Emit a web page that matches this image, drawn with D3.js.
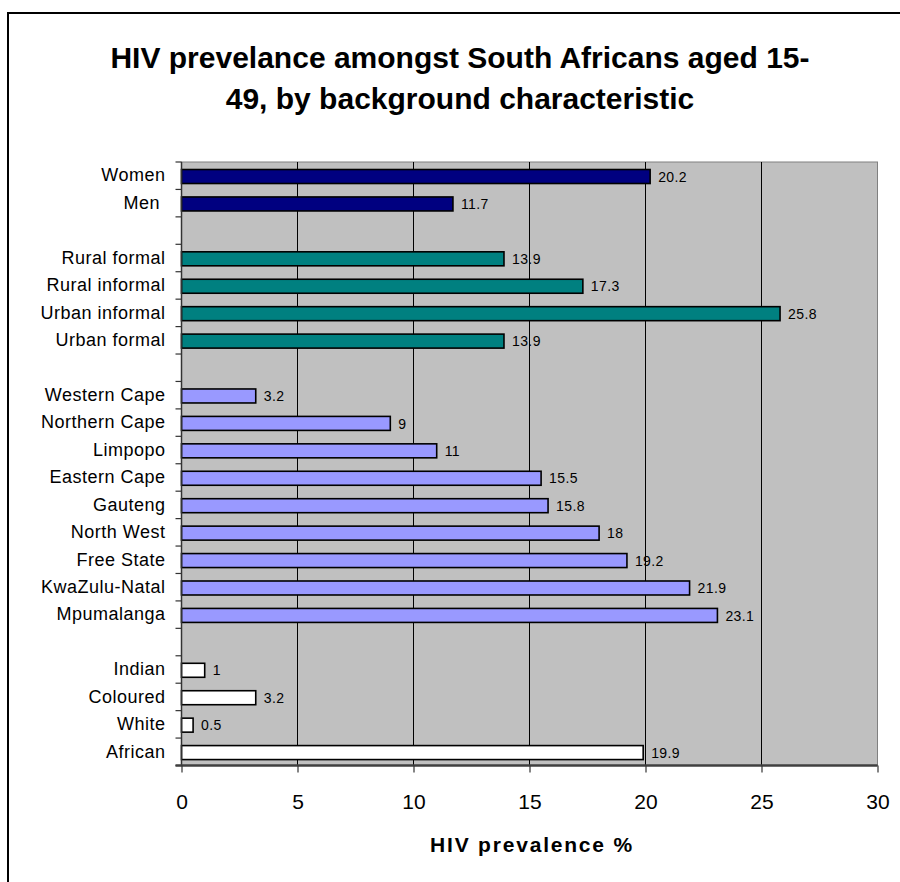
<!DOCTYPE html>
<html>
<head>
<meta charset="utf-8">
<script src="https://cdn.jsdelivr.net/npm/d3@7"></script>
<style>
  body { margin: 0; background: #fff; }
  text { font-family: "Liberation Sans", Arial, sans-serif; }
</style>
</head>
<body>
<svg id="chart" width="900" height="882"></svg>
<script>
// data, top to bottom, one list per group
var genderLabels = ["Women", "Men "];
var genderValues = [20.2, 11.7];
var settlementLabels = ["Rural formal", "Rural informal", "Urban informal", "Urban formal"];
var settlementValues = [13.9, 17.3, 25.8, 13.9];
var provinceLabels = ["Western Cape", "Northern Cape", "Limpopo", "Eastern Cape", "Gauteng",
                      "North West", "Free State", "KwaZulu-Natal", "Mpumalanga"];
var provinceValues = [3.2, 9, 11, 15.5, 15.8, 18, 19.2, 21.9, 23.1];
var raceLabels = ["Indian", "Coloured", "White", "African"];
var raceValues = [1, 3.2, 0.5, 19.9];
var xTicks = [0, 5, 10, 15, 20, 25, 30];

var groupColors = ["#000080", "#008080", "#9999FF", "#FFFFFF"];

// build rows with an empty slot between the groups
var groups = [[genderLabels, genderValues], [settlementLabels, settlementValues],
              [provinceLabels, provinceValues], [raceLabels, raceValues]];
var rows = [];
groups.forEach(function(g, gi){
	if(gi > 0) rows.push({key: "gap" + gi, label: "", value: null});
	g[0].forEach(function(lab, i){
		rows.push({key: lab, label: lab, value: g[1][i], color: groupColors[gi]});
	});
});

var svg = d3.select("#chart");

// outer frame
svg.append("rect")
   .attr("x", 8).attr("y", 13)
   .attr("width", 920).attr("height", 900)
   .attr("fill", "#fff")
   .attr("stroke", "#000")
   .attr("stroke-width", 2);

var pLeft = 181.5, pRight = 877.5, pTop = 162, pBottom = 765.5;

var x = d3.scaleLinear().domain([0, 30]).range([pLeft, pRight]);
var y = d3.scaleBand().domain(rows.map(function(d){ return d.key; })).range([pTop, pBottom]);

// title
var title = svg.append("text")
   .attr("text-anchor", "middle")
   .attr("font-size", "30px")
   .attr("font-weight", "bold");
title.append("tspan").attr("x", 460).attr("y", 68).text("HIV prevelance amongst South Africans aged 15-");
title.append("tspan").attr("x", 460).attr("y", 109).text("49, by background characteristic");

// plot area
svg.append("rect")
   .attr("x", pLeft).attr("y", pTop)
   .attr("width", pRight - pLeft).attr("height", pBottom - pTop)
   .attr("fill", "#C0C0C0")
   .attr("stroke", "#808080")
   .attr("stroke-width", 1);

// gridlines
svg.append("g").selectAll("line")
   .data(xTicks.filter(function(t){ return t > 0 && t < 30; }))
   .enter().append("line")
   .attr("x1", function(d){ return x(d); })
   .attr("x2", function(d){ return x(d); })
   .attr("y1", pTop).attr("y2", pBottom)
   .attr("stroke", "#000")
   .attr("stroke-width", 1);

// bars
var barH = y.bandwidth() * 0.51;
var bars = svg.append("g").selectAll(".bar")
   .data(rows.filter(function(d){ return d.value !== null; }))
   .enter().append("g").attr("class", "bar");

bars.append("rect")
   .attr("x", x(0))
   .attr("y", function(d){ return y(d.key) + (y.bandwidth() - barH) / 2 + 0.8; })
   .attr("width", function(d){ return x(d.value) - x(0); })
   .attr("height", barH)
   .attr("fill", function(d){ return d.color; })
   .attr("stroke", "#000")
   .attr("stroke-width", 1.6);

bars.append("text")
   .attr("x", function(d){ return x(d.value) + 8; })
   .attr("y", function(d){ return y(d.key) + y.bandwidth() / 2 + 1; })
   .attr("dy", "0.35em")
   .attr("font-size", "14px")
   .attr("letter-spacing", "0.4px")
   .attr("fill", "#000")
   .text(function(d){ return String(d.value); });

// y axis: labels at band centres, ticks at band edges
var yAxis = svg.append("g")
   .attr("transform", "translate(" + pLeft + ",0)")
   .call(d3.axisLeft(y).tickSize(0).tickPadding(16)
          .tickFormat(function(k){ var r = rows.find(function(d){ return d.key === k; }); return r.label; }));
yAxis.select(".domain").remove();
yAxis.selectAll("text")
   .attr("font-size", "18px")
   .attr("letter-spacing", "0.5px")
   .attr("font-family", "Liberation Sans, Arial, sans-serif")
   .attr("fill", "#000")
   .style("white-space", "pre");

var edges = rows.map(function(d){ return y(d.key); }).concat([pBottom]);
svg.append("g").selectAll("line")
   .data(edges)
   .enter().append("line")
   .attr("x1", pLeft - 6).attr("x2", pLeft)
   .attr("y1", function(d){ return d; }).attr("y2", function(d){ return d; })
   .attr("stroke", "#333")
   .attr("stroke-width", 1.2);

svg.append("line")
   .attr("x1", pLeft).attr("x2", pLeft)
   .attr("y1", pTop).attr("y2", pBottom)
   .attr("stroke", "#333")
   .attr("stroke-width", 1.5);

// x axis
var xAxis = svg.append("g")
   .attr("transform", "translate(0," + pBottom + ")")
   .call(d3.axisBottom(x).tickValues(xTicks).tickSize(7).tickPadding(22));
xAxis.select(".domain")
   .attr("stroke", "#404040")
   .attr("stroke-width", 2.5)
   .attr("d", "M" + (pLeft - 6) + ",0H" + pRight);
xAxis.selectAll(".tick line").attr("stroke", "#333").attr("stroke-width", 1.2);
xAxis.selectAll("text")
   .attr("font-size", "21px")
   .attr("font-family", "Liberation Sans, Arial, sans-serif")
   .attr("fill", "#000");

svg.append("text")
   .attr("x", 532).attr("y", 852)
   .attr("text-anchor", "middle")
   .attr("font-size", "21px")
   .attr("font-weight", "bold")
   .attr("letter-spacing", "1.8px")
   .text("HIV prevalence %");
</script>
</body>
</html>
